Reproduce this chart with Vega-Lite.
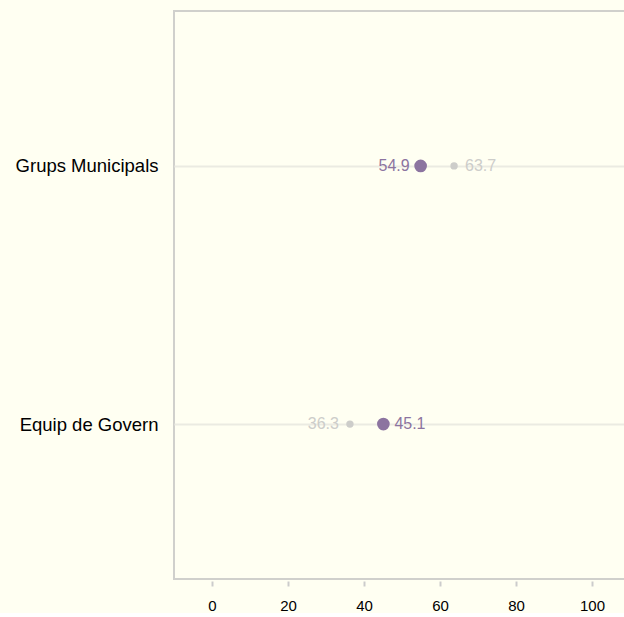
{
  "$schema": "https://vega.github.io/schema/vega-lite/v6.json",
  "width": 456,
  "height": 568,
  "padding": {"top": 11, "left": 15, "right": 0, "bottom": 0},
  "background": "#fffff2",
  "config": {
    "view": {"stroke": "#d0d0cc", "strokeWidth": 2, "fill": "#fffff2"},
    "font": "Liberation Sans"
  },
  "data": {
    "values": [
      {"group": "Grups Municipals", "series": "A", "value": 54.9},
      {"group": "Grups Municipals", "series": "B", "value": 63.7},
      {"group": "Equip de Govern", "series": "A", "value": 45.1},
      {"group": "Equip de Govern", "series": "B", "value": 36.3}
    ]
  },
  "transform": [
    {"joinaggregate": [{"op": "min", "field": "value", "as": "minv"}], "groupby": ["group"]}
  ],
  "encoding": {
    "y": {
      "field": "group", "type": "nominal",
      "sort": ["Grups Municipals", "Equip de Govern"],
      "scale": {"type": "point", "padding": 0.6},
      "axis": {
        "title": null, "domain": false, "ticks": false,
        "grid": true, "gridColor": "#ebebe2", "gridWidth": 2,
        "labelFontSize": 18.5, "labelColor": "#000000", "labelPadding": 16,
        "labelFont": "Liberation Sans"
      }
    },
    "x": {
      "field": "value", "type": "quantitative",
      "scale": {"domain": [-10, 110], "nice": false, "zero": false},
      "axis": {
        "title": null, "domain": false, "grid": false,
        "values": [0, 20, 40, 60, 80, 100],
        "tickColor": "#cccccc", "tickWidth": 2, "tickSize": 5, "offset": 2,
        "labelFontSize": 15, "labelColor": "#000000", "labelPadding": 12,
        "labelFont": "Liberation Sans"
      }
    },
    "color": {
      "field": "series", "type": "nominal",
      "scale": {"domain": ["A", "B"], "range": ["#8c74a0", "#cdcdca"]},
      "legend": null
    }
  },
  "layer": [
    {
      "mark": {"type": "point", "filled": true, "opacity": 1},
      "encoding": {
        "size": {
          "field": "series", "type": "nominal",
          "scale": {"domain": ["A", "B"], "range": [160, 55]},
          "legend": null
        }
      }
    },
    {
      "transform": [{"filter": "datum.value == datum.minv"}],
      "mark": {"type": "text", "align": "right", "baseline": "middle", "dx": -11, "fontSize": 16},
      "encoding": {"text": {"field": "value", "type": "quantitative", "format": ".1f"}}
    },
    {
      "transform": [{"filter": "datum.value != datum.minv"}],
      "mark": {"type": "text", "align": "left", "baseline": "middle", "dx": 11, "fontSize": 16},
      "encoding": {"text": {"field": "value", "type": "quantitative", "format": ".1f"}}
    }
  ]
}
